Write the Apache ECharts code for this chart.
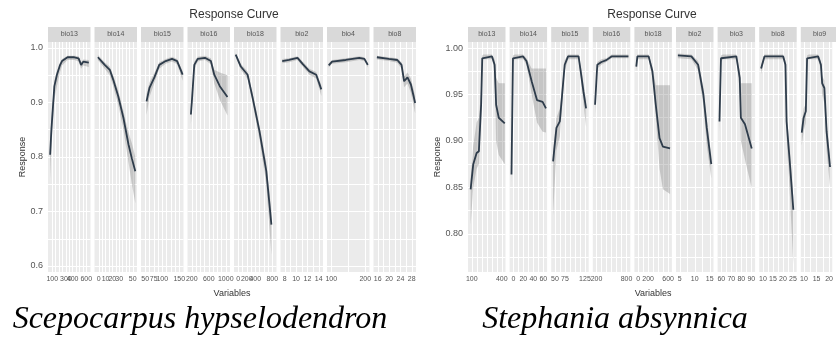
<!DOCTYPE html>
<html>
<head>
<meta charset="utf-8">
<script src="https://cdn.jsdelivr.net/npm/echarts@6/dist/echarts.min.js"></script>
<style>
  html, body { margin: 0; padding: 0; background: #fff; }
  #chart { width: 836px; height: 348px; }
</style>
</head>
<body>
<div id="chart"></div>
<script>
// two response-curve figures side by side, one facet per bioclim variable
// x in every facet is the position along that variable's range, 0..100

// ---- left: Scepocarpus hypselodendron ----
const leftVars = ['bio13', 'bio14', 'bio15', 'bio16', 'bio18', 'bio2', 'bio4', 'bio8'];
const leftTicks = [
    ['100', '200', '300', '400', '500', '600'],
    ['0', '10', '20', '30', '40', '50'],
    ['50', '75', '100', '125', '150'],
    ['200', '400', '600', '800', '1000'],
    ['0', '200', '400', '600', '800'],
    ['8', '10', '12', '14'],
    ['100', '200'],
    ['16', '20', '24', '28']
];
const leftX = [
    [5, 8, 12, 15, 21, 28, 33, 46, 62, 72, 75, 78, 83, 96],
    [8, 24, 36, 44, 56, 68, 80, 88, 96],
    [13, 20, 32, 43, 58, 73, 85, 98],
    [8, 11, 16, 24, 41, 55, 63, 76, 94],
    [4, 16, 32, 44, 60, 76, 88],
    [4, 20, 40, 52, 68, 84, 96],
    [4, 12, 44, 76, 88, 96],
    [8, 36, 56, 66, 72, 80, 88, 98]
];
const leftMean = [
    [0.804, 0.850, 0.896, 0.930, 0.951, 0.968, 0.976, 0.983, 0.983, 0.981, 0.975, 0.969, 0.975, 0.973],
    [0.983, 0.969, 0.960, 0.942, 0.911, 0.872, 0.823, 0.797, 0.774],
    [0.902, 0.927, 0.947, 0.969, 0.976, 0.980, 0.976, 0.951],
    [0.878, 0.910, 0.969, 0.980, 0.982, 0.976, 0.951, 0.930, 0.910],
    [0.988, 0.966, 0.951, 0.908, 0.847, 0.774, 0.676],
    [0.976, 0.978, 0.982, 0.971, 0.957, 0.951, 0.924],
    [0.968, 0.975, 0.978, 0.982, 0.980, 0.969],
    [0.983, 0.980, 0.978, 0.969, 0.939, 0.946, 0.933, 0.899]
];
const leftLow = [
    [0.760, 0.815, 0.870, 0.905, 0.930, 0.955, 0.968, 0.978, 0.978, 0.975, 0.968, 0.962, 0.968, 0.965],
    [0.978, 0.962, 0.950, 0.930, 0.895, 0.850, 0.790, 0.750, 0.715],
    [0.877, 0.910, 0.937, 0.962, 0.971, 0.975, 0.970, 0.940],
    [0.860, 0.895, 0.960, 0.975, 0.978, 0.970, 0.935, 0.905, 0.876],
    [0.984, 0.960, 0.943, 0.898, 0.832, 0.750, 0.621],
    [0.972, 0.974, 0.978, 0.966, 0.951, 0.944, 0.912],
    [0.964, 0.971, 0.974, 0.978, 0.976, 0.964],
    [0.979, 0.976, 0.973, 0.962, 0.928, 0.935, 0.918, 0.880]
];
const leftHigh = [
    [0.830, 0.870, 0.910, 0.940, 0.958, 0.973, 0.980, 0.986, 0.986, 0.985, 0.979, 0.974, 0.979, 0.978],
    [0.987, 0.974, 0.966, 0.950, 0.922, 0.885, 0.845, 0.825, 0.800],
    [0.915, 0.937, 0.955, 0.974, 0.980, 0.984, 0.980, 0.958],
    [0.895, 0.925, 0.975, 0.984, 0.986, 0.981, 0.960, 0.955, 0.950],
    [0.991, 0.971, 0.957, 0.916, 0.858, 0.790, 0.700],
    [0.980, 0.981, 0.985, 0.975, 0.962, 0.956, 0.932],
    [0.972, 0.978, 0.981, 0.985, 0.983, 0.973],
    [0.986, 0.983, 0.981, 0.974, 0.948, 0.955, 0.944, 0.912]
];

// ---- right: Stephania absynnica ----
const rightVars = ['bio13', 'bio14', 'bio15', 'bio16', 'bio18', 'bio2', 'bio3', 'bio8', 'bio9'];
const rightTicks = [
    ['100', '200', '300', '400'],
    ['0', '20', '40', '60'],
    ['50', '75', '100', '125'],
    ['200', '400', '600', '800'],
    ['0', '200', '400', '600'],
    ['5', '10', '15'],
    ['60', '70', '80', '90'],
    ['10', '15', '20', '25'],
    ['10', '15', '20']
];
const rightX = [
    [7, 14, 23, 29, 35, 38, 41, 64, 71, 75, 82, 98],
    [5, 9, 14, 36, 45, 59, 73, 88, 97],
    [5, 14, 23, 36, 45, 73, 80, 86, 93],
    [6, 12, 23, 36, 50, 95],
    [5, 8, 38, 48, 57, 67, 76, 95],
    [5, 41, 59, 73, 82, 94],
    [5, 9, 14, 50, 59, 62, 73, 91],
    [5, 14, 64, 70, 73, 82, 91],
    [3, 9, 16, 20, 25, 55, 64, 68, 75, 82, 93]
];
const rightMean = [
    [0.848, 0.875, 0.887, 0.889, 0.939, 0.989, 0.991, 0.991, 0.982, 0.939, 0.925, 0.919],
    [0.864, 0.989, 0.991, 0.991, 0.986, 0.964, 0.944, 0.942, 0.935],
    [0.878, 0.914, 0.921, 0.982, 0.991, 0.991, 0.971, 0.953, 0.935],
    [0.939, 0.982, 0.985, 0.987, 0.991, 0.991],
    [0.980, 0.991, 0.991, 0.975, 0.939, 0.903, 0.894, 0.892],
    [0.992, 0.991, 0.982, 0.950, 0.914, 0.875],
    [0.921, 0.989, 0.991, 0.991, 0.968, 0.925, 0.918, 0.892],
    [0.978, 0.991, 0.991, 0.982, 0.921, 0.875, 0.826],
    [0.909, 0.925, 0.932, 0.989, 0.991, 0.991, 0.982, 0.962, 0.957, 0.910, 0.872]
];
const rightLow = [
    [0.810, 0.850, 0.870, 0.875, 0.925, 0.985, 0.988, 0.988, 0.975, 0.900, 0.885, 0.875],
    [0.850, 0.985, 0.988, 0.988, 0.982, 0.950, 0.920, 0.910, 0.909],
    [0.820, 0.890, 0.905, 0.975, 0.988, 0.988, 0.962, 0.940, 0.915],
    [0.930, 0.978, 0.982, 0.985, 0.989, 0.989],
    [0.975, 0.988, 0.988, 0.968, 0.925, 0.870, 0.848, 0.843],
    [0.989, 0.988, 0.976, 0.938, 0.895, 0.860],
    [0.910, 0.985, 0.988, 0.988, 0.955, 0.900, 0.880, 0.849],
    [0.972, 0.988, 0.988, 0.976, 0.905, 0.840, 0.767],
    [0.895, 0.910, 0.920, 0.985, 0.988, 0.988, 0.976, 0.950, 0.940, 0.890, 0.850]
];
const rightHigh = [
    [0.860, 0.895, 0.920, 0.925, 0.955, 0.992, 0.993, 0.993, 0.988, 0.968, 0.962, 0.962],
    [0.875, 0.992, 0.993, 0.993, 0.989, 0.978, 0.978, 0.978, 0.978],
    [0.890, 0.925, 0.935, 0.987, 0.993, 0.993, 0.978, 0.962, 0.945],
    [0.945, 0.985, 0.988, 0.989, 0.993, 0.993],
    [0.984, 0.993, 0.993, 0.980, 0.960, 0.960, 0.960, 0.960],
    [0.994, 0.993, 0.986, 0.958, 0.925, 0.885],
    [0.930, 0.992, 0.993, 0.993, 0.975, 0.962, 0.962, 0.962],
    [0.982, 0.993, 0.993, 0.986, 0.932, 0.890, 0.840],
    [0.918, 0.935, 0.940, 0.992, 0.993, 0.993, 0.986, 0.970, 0.965, 0.920, 0.885]
];

const leftYTicks = [0.6, 0.7, 0.8, 0.9, 1.0];
const leftYLines = [0.6, 0.65, 0.7, 0.75, 0.8, 0.85, 0.9, 0.95, 1.0];
const rightYTicks = [0.80, 0.85, 0.90, 0.95, 1.00];
const rightYLines = [0.775, 0.8, 0.825, 0.85, 0.875, 0.9, 0.925, 0.95, 0.975, 1.0];

const SANS = 'Liberation Sans, Arial, sans-serif';
const PANEL_TOP = 42;
const PANEL_H = 230;

const option = {
    animation: false,
    backgroundColor: '#fff',
    grid: [],
    xAxis: [],
    yAxis: [],
    series: [],
    graphic: []
};

function addFacets(cfg) {
    cfg.vars.forEach((name, i) => {
        const gi = option.grid.length;
        const left = cfg.left + i * cfg.stride;
        option.grid.push({
            left: left, top: PANEL_TOP, width: cfg.width, height: PANEL_H,
            show: true, backgroundColor: '#ebebeb', borderWidth: 0
        });

        // tick label spots along the panel, plus a minor line between each pair
        const labels = cfg.ticks[i];
        const n = labels.length;
        const pos = labels.map((_, k) => 10 + k * 80 / Math.max(n - 1, 1));
        const lines = [];
        pos.forEach((p, k) => {
            lines.push(p);
            if (k < n - 1) lines.push((p + pos[k + 1]) / 2);
        });

        option.xAxis.push({
            type: 'value', gridIndex: gi, min: 0, max: 100,
            axisLine: { show: false },
            axisTick: { show: false, customValues: lines },
            axisLabel: {
                customValues: pos, fontSize: 7, color: '#555', margin: 4, fontFamily: SANS,
                interval: 0, hideOverlap: false, showMinLabel: true, showMaxLabel: true,
                formatter: v => {
                    const k = pos.findIndex(p => Math.abs(p - v) < 1e-6);
                    return k >= 0 ? labels[k] : '';
                }
            },
            splitLine: { show: true, lineStyle: { color: '#fff', width: 1 } }
        });

        option.yAxis.push({
            type: 'value', gridIndex: gi, min: cfg.yMin, max: cfg.yMax,
            axisLine: { show: false },
            axisTick: { show: false, customValues: cfg.yLines },
            axisLabel: {
                show: i === 0, customValues: cfg.yTicks, fontSize: 9, color: '#555',
                margin: 5, fontFamily: SANS,
                formatter: v => v.toFixed(cfg.dec)
            },
            splitLine: { show: true, lineStyle: { color: '#fff', width: 1 } },
            name: i === 0 ? 'Response' : '',
            nameLocation: 'middle',
            nameGap: cfg.nameGap,
            nameTextStyle: { fontSize: 9, color: '#333', fontFamily: SANS }
        });

        const xs = cfg.x[i], lo = cfg.lo[i], hi = cfg.hi[i], mean = cfg.mean[i];
        // confidence ribbon: polygon along the upper edge and back along the lower one
        option.series.push({
            type: 'custom', xAxisIndex: gi, yAxisIndex: gi, clip: true, silent: true,
            data: [[xs[0], mean[0]]],
            renderItem: (params, api) => {
                const upper = xs.map((x, k) => api.coord([x, hi[k]]));
                const lower = xs.map((x, k) => api.coord([x, lo[k]])).reverse();
                return {
                    type: 'polygon',
                    shape: { points: upper.concat(lower) },
                    style: { fill: 'rgba(110,110,110,0.3)' }
                };
            }
        });
        option.series.push({
            type: 'line', xAxisIndex: gi, yAxisIndex: gi,
            data: xs.map((x, k) => [x, mean[k]]),
            symbol: 'none', lineStyle: { color: '#2e3c4b', width: 1.8 }
        });

        // facet strip
        option.graphic.push({
            type: 'rect', shape: { x: left, y: 27, width: cfg.width, height: PANEL_TOP - 27 },
            style: { fill: '#d9d9d9' }, silent: true
        });
        option.graphic.push({
            type: 'text', x: left + cfg.width / 2, y: 34.5,
            style: { text: name, fontSize: 7, fill: '#555', align: 'center', verticalAlign: 'middle', fontFamily: SANS }
        });
    });

    const mid = cfg.left + ((cfg.vars.length - 1) * cfg.stride + cfg.width) / 2;
    option.graphic.push({
        type: 'text', x: cfg.titleX, y: 15,
        style: { text: 'Response Curve', fontSize: 12, fill: '#333', align: 'center', verticalAlign: 'middle', fontFamily: SANS }
    });
    option.graphic.push({
        type: 'text', x: mid, y: 294,
        style: { text: 'Variables', fontSize: 9, fill: '#333', align: 'center', verticalAlign: 'middle', fontFamily: SANS }
    });
    option.graphic.push({
        type: 'text', x: cfg.speciesX, y: 320,
        style: {
            text: cfg.species, fontSize: 32, fontStyle: 'italic', fill: '#000',
            align: 'center', verticalAlign: 'middle', fontFamily: 'Liberation Serif, Times New Roman, serif'
        }
    });
}

addFacets({
    vars: leftVars, ticks: leftTicks, x: leftX, mean: leftMean, lo: leftLow, hi: leftHigh,
    left: 48, stride: 46.5, width: 42.5,
    yMin: 0.589, yMax: 1.011, yTicks: leftYTicks, yLines: leftYLines, dec: 1, nameGap: 21,
    titleX: 234, speciesX: 200, species: 'Scepocarpus hypselodendron'
});
addFacets({
    vars: rightVars, ticks: rightTicks, x: rightX, mean: rightMean, lo: rightLow, hi: rightHigh,
    left: 468, stride: 41.6, width: 37.5,
    yMin: 0.759, yMax: 1.0065, yTicks: rightYTicks, yLines: rightYLines, dec: 2, nameGap: 26,
    titleX: 652, speciesX: 615, species: 'Stephania absynnica'
});

const chart = echarts.init(document.getElementById('chart'));
chart.setOption(option);
</script>
</body>
</html>
